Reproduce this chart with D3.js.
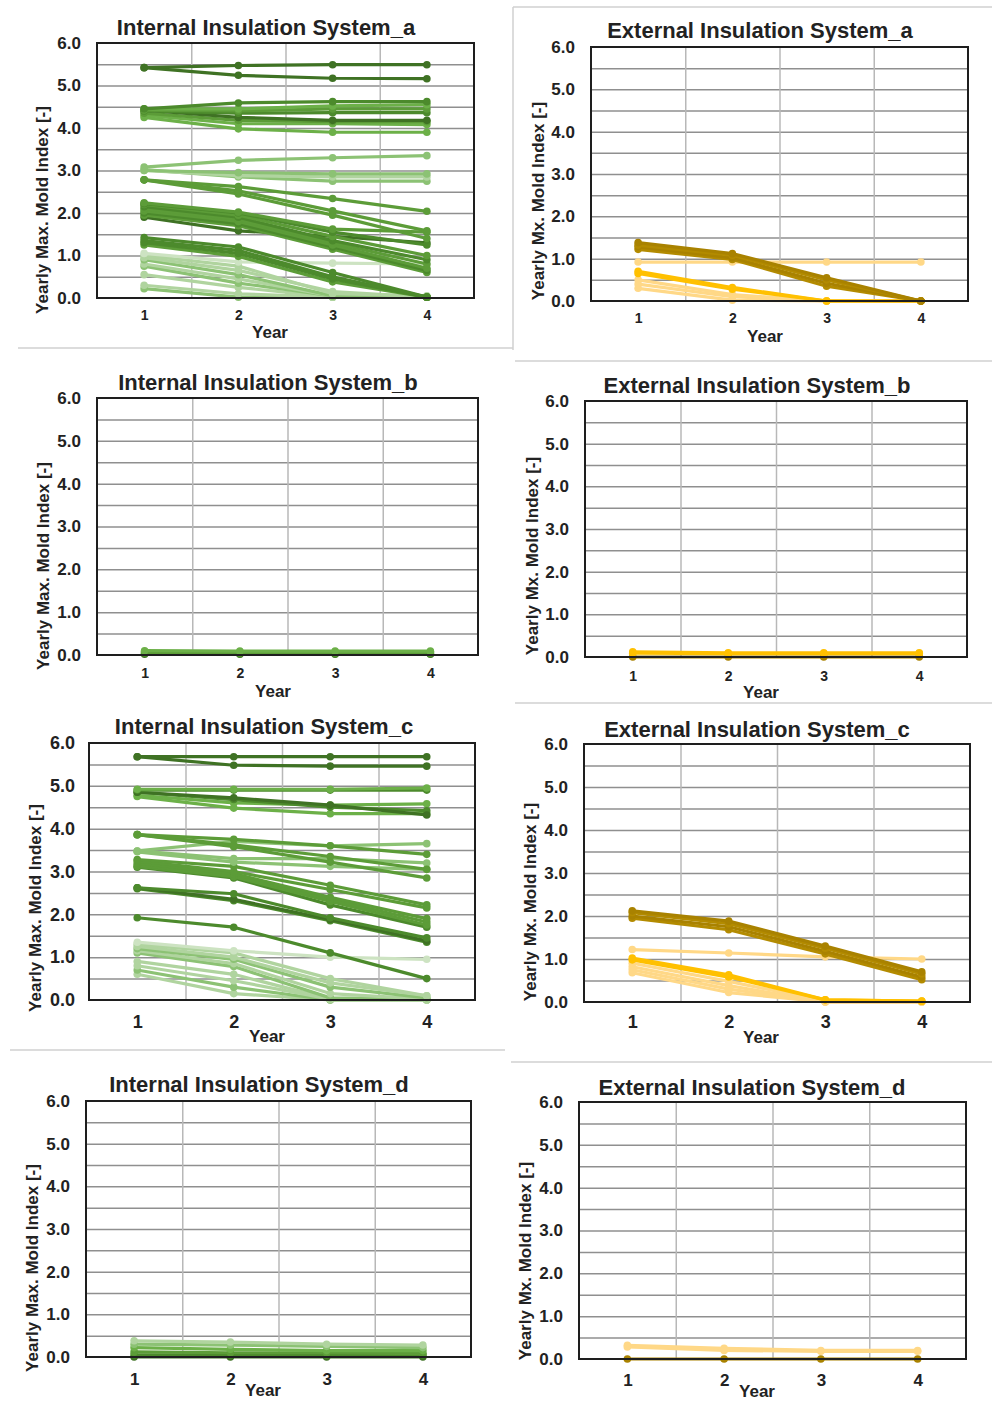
<!DOCTYPE html>
<html>
<head>
<meta charset="utf-8">
<script src="https://cdn.jsdelivr.net/npm/d3@7"></script>
<style>
  body { margin: 0; background: #fff; }
  text { font-family: "Liberation Sans", Arial, sans-serif; font-weight: bold; fill: #222; }
</style>
</head>
<body>
<svg id="canvas"></svg>
<script>
// ---- data ----
let years = [1, 2, 3, 4];
let yTicks = [0, 1, 2, 3, 4, 5, 6];
let yGrid = [0.5, 1, 1.5, 2, 2.5, 3, 3.5, 4, 4.5, 5, 5.5];
let xGrid = [1.5, 2.5, 3.5];

// Internal insulation system a
let intA = [
  [5.42, 5.47, 5.49, 5.49], [5.42, 5.24, 5.17, 5.16],
  [4.45, 4.59, 4.62, 4.62], [4.45, 4.45, 4.52, 4.55], [4.42, 4.40, 4.45, 4.45],
  [4.40, 4.35, 4.36, 4.36], [4.42, 4.25, 4.18, 4.18], [4.35, 4.18, 4.15, 4.15],
  [4.30, 4.10, 4.10, 4.08], [4.25, 3.98, 3.90, 3.90],
  [3.08, 3.24, 3.30, 3.35], [3.00, 2.95, 2.92, 2.92], [3.00, 2.88, 2.85, 2.85], [3.02, 2.85, 2.75, 2.75],
  [2.78, 2.62, 2.34, 2.04], [2.78, 2.52, 2.05, 1.58], [2.78, 2.45, 1.95, 1.40],
  [2.24, 2.02, 1.62, 1.55], [2.22, 2.00, 1.55, 1.25], [2.20, 1.95, 1.45, 1.00],
  [2.15, 1.90, 1.35, 0.90], [2.10, 1.85, 1.30, 0.80], [2.05, 1.80, 1.25, 0.70],
  [2.00, 1.75, 1.20, 0.65], [1.95, 1.70, 1.15, 0.60], [1.90, 1.58, 1.45, 1.30],
  [1.42, 1.20, 0.60, 0.02], [1.35, 1.12, 0.50, 0.02], [1.30, 1.05, 0.45, 0.02], [1.25, 0.98, 0.38, 0.02],
  [1.05, 0.85, 0.82, 0.80], [1.00, 0.75, 0.10, 0.05], [0.95, 0.65, 0.15, 0.02],
  [0.90, 0.55, 0.05, 0.02], [0.80, 0.45, 0.05, 0.02], [0.75, 0.35, 0.05, 0.02],
  [0.55, 0.25, 0.02, 0.02], [0.30, 0.10, 0.02, 0.02], [0.22, 0.02, 0.02, 0.02]
];
let intAShade = [0, 0, 1, 3, 2, 1, 0, 2, 3, 3, 4, 4, 5, 4, 2, 2, 2,
  2, 1, 2, 1, 2, 2, 1, 2, 0, 1, 1, 1, 2, 6, 5, 5, 4, 5, 4, 5, 5, 4];

// External insulation system a
let extA = [
  [1.38, 1.12, 0.55, 0.0], [1.32, 1.08, 0.50, 0.0], [1.28, 1.02, 0.42, 0.0], [1.22, 0.98, 0.35, 0.0],
  [0.92, 0.92, 0.92, 0.92],
  [0.70, 0.32, 0.0, 0.0], [0.65, 0.28, 0.0, 0.0],
  [0.50, 0.15, 0.0, 0.0], [0.40, 0.10, 0.0, 0.0], [0.30, 0.02, 0.0, 0.0]
];
let extAShade = [0, 1, 0, 1, 3, 2, 2, 3, 3, 3];

// Internal insulation system b
let intB = [
  [0.10, 0.09, 0.09, 0.09], [0.08, 0.07, 0.07, 0.07], [0.06, 0.05, 0.05, 0.05],
  [0.04, 0.03, 0.03, 0.03], [0.02, 0.02, 0.02, 0.02]
];
let intBShade = [3, 2, 2, 1, 0];

// External insulation system b
let extB = [[0.12, 0.10, 0.10, 0.10], [0.09, 0.08, 0.08, 0.08], [0.0, 0.0, 0.0, 0.0]];
let extBShade = [2, 2, 0];

// Internal insulation system c
let intC = [
  [5.68, 5.68, 5.68, 5.68], [5.68, 5.48, 5.46, 5.46],
  [4.92, 4.92, 4.92, 4.95], [4.90, 4.90, 4.90, 4.90], [4.85, 4.72, 4.55, 4.32],
  [4.85, 4.68, 4.50, 4.42], [4.78, 4.60, 4.55, 4.58], [4.75, 4.48, 4.35, 4.35],
  [3.86, 3.75, 3.60, 3.40], [3.86, 3.62, 3.35, 3.05], [3.86, 3.58, 3.22, 2.85],
  [3.48, 3.70, 3.60, 3.65], [3.48, 3.30, 3.30, 3.20], [3.46, 3.22, 3.12, 3.05],
  [3.28, 3.12, 2.68, 2.22], [3.25, 3.00, 2.58, 2.15], [3.20, 2.95, 2.40, 1.90],
  [3.15, 2.90, 2.35, 1.82], [3.12, 2.88, 2.30, 1.75], [3.10, 2.85, 2.22, 1.70],
  [2.62, 2.48, 1.92, 1.45], [2.62, 2.35, 1.88, 1.38], [2.60, 2.32, 1.85, 1.35],
  [1.92, 1.70, 1.10, 0.50],
  [1.35, 1.15, 1.00, 0.95], [1.30, 1.10, 0.50, 0.10], [1.25, 1.00, 0.40, 0.10],
  [1.20, 0.95, 0.30, 0.05], [1.15, 0.85, 0.15, 0.02], [1.10, 0.78, 0.05, 0.02],
  [0.90, 0.60, 0.02, 0.0], [0.80, 0.45, 0.02, 0.0], [0.70, 0.30, 0.0, 0.0], [0.60, 0.15, 0.0, 0.0]
];
let intCShade = [0, 0, 3, 1, 0, 1, 3, 3, 2, 2, 2, 4, 4, 4, 2, 2, 2, 2, 2, 1,
  1, 0, 1, 1, 6, 5, 5, 4, 5, 4, 5, 5, 4, 5];

// External insulation system c
let extC = [
  [2.12, 1.88, 1.30, 0.70], [2.08, 1.82, 1.25, 0.65], [2.00, 1.75, 1.18, 0.58], [1.95, 1.68, 1.12, 0.52],
  [1.22, 1.14, 1.05, 1.00],
  [1.02, 0.63, 0.05, 0.02], [0.98, 0.58, 0.05, 0.02],
  [0.90, 0.48, 0.02, 0.0], [0.82, 0.38, 0.0, 0.0], [0.75, 0.30, 0.0, 0.0], [0.68, 0.22, 0.0, 0.0]
];
let extCShade = [0, 1, 0, 1, 3, 2, 2, 3, 3, 3, 3];

// Internal insulation system d
let intD = [
  [0.38, 0.35, 0.30, 0.28], [0.30, 0.28, 0.25, 0.22], [0.22, 0.18, 0.15, 0.15],
  [0.12, 0.10, 0.10, 0.08], [0.05, 0.05, 0.05, 0.05], [0.0, 0.0, 0.0, 0.0]
];
let intDShade = [5, 4, 3, 2, 1, 0];

// External insulation system d
let extD = [[0.32, 0.25, 0.20, 0.20], [0.28, 0.20, 0.18, 0.18], [0.0, 0.0, 0.0, 0.0]];
let extDShade = [3, 3, 0];

let greens = ["#3f7224", "#4c8a2c", "#5c9c38", "#6cb048", "#8cc274", "#b0d49f", "#cde3c2"];
let golds = ["#a98200", "#b38b00", "#ffc000", "#ffd887"];

// ---- layout of the eight panels ----
let panels = [
  { title: "Internal Insulation System_a", ylab: "Yearly Max. Mold Index [-]", series: intA, shade: intAShade, pal: greens,
    l: 97, t: 43, r: 474, b: 298, tx: 266, ty: 35, lx: 42, ly: 210, yx: 270, yy: 338, xf: 14, xp: 12, yf: 17, yp: 16 },
  { title: "External Insulation System_a", ylab: "Yearly Mx. Mold Index [-]", series: extA, shade: extAShade, pal: golds,
    l: 591, t: 47, r: 968, b: 301, tx: 760, ty: 38, lx: 538, ly: 201, yx: 765, yy: 342, xf: 14, xp: 12, yf: 17, yp: 16 },
  { title: "Internal Insulation System_b", ylab: "Yearly Max. Mold Index [-]", series: intB, shade: intBShade, pal: greens,
    l: 97, t: 398, r: 478, b: 655, tx: 268, ty: 390, lx: 43, ly: 566, yx: 273, yy: 697, xf: 14, xp: 13, yf: 17, yp: 16 },
  { title: "External Insulation System_b", ylab: "Yearly Mx. Mold Index [-]", series: extB, shade: extBShade, pal: golds,
    l: 585, t: 401, r: 967, b: 657, tx: 757, ty: 393, lx: 532, ly: 556, yx: 761, yy: 698, xf: 14, xp: 14, yf: 17, yp: 16 },
  { title: "Internal Insulation System_c", ylab: "Yearly Max. Mold Index [-]", series: intC, shade: intCShade, pal: greens,
    l: 89, t: 743, r: 475, b: 1000, tx: 264, ty: 734, lx: 35, ly: 908, yx: 267, yy: 1042, xf: 18, xp: 15, yf: 18, yp: 14 },
  { title: "External Insulation System_c", ylab: "Yearly Mx. Mold Index [-]", series: extC, shade: extCShade, pal: golds,
    l: 584, t: 744, r: 970, b: 1002, tx: 757, ty: 737, lx: 530, ly: 902, yx: 761, yy: 1043, xf: 18, xp: 13, yf: 17, yp: 16 },
  { title: "Internal Insulation System_d", ylab: "Yearly Max. Mold Index [-]", series: intD, shade: intDShade, pal: greens,
    l: 86, t: 1101, r: 471, b: 1357, tx: 259, ty: 1092, lx: 32, ly: 1268, yx: 263, yy: 1396, xf: 17, xp: 16, yf: 17, yp: 16 },
  { title: "External Insulation System_d", ylab: "Yearly Mx. Mold Index [-]", series: extD, shade: extDShade, pal: golds,
    l: 579, t: 1102, r: 966, b: 1359, tx: 752, ty: 1095, lx: 525, ly: 1261, yx: 757, yy: 1397, xf: 17, xp: 15, yf: 17, yp: 16 }
];

let width = 992;
let height = 1402;

let canvas = d3.select("#canvas")
  .attr("width", width)
  .attr("height", height);

canvas.append("rect").attr("width", width).attr("height", height).attr("fill", "#fff");

// light separator lines of the collage
let seps = [
  [18, 348, 513, 348], [513, 7, 513, 350], [513, 7, 992, 7],
  [515, 361, 992, 361], [515, 703, 992, 703],
  [10, 1050, 505, 1050], [511, 1062, 992, 1062]
];
canvas.selectAll("line.sep")
  .data(seps)
  .enter()
  .append("line")
  .attr("class", "sep")
  .attr("x1", d => d[0]).attr("y1", d => d[1])
  .attr("x2", d => d[2]).attr("y2", d => d[3])
  .attr("stroke", "#d0d0d0")
  .attr("stroke-width", 1.5);

let drawPanel = (p) => {
  let g = canvas.append("g");

  let xScale = d3.scaleLinear().domain([0.5, 4.5]).range([p.l, p.r]);
  let yScale = d3.scaleLinear().domain([0, 6]).range([p.b, p.t]);

  // grid
  g.append("g")
    .attr("transform", "translate(" + p.l + ",0)")
    .call(d3.axisLeft(yScale).tickValues(yGrid).tickSize(-(p.r - p.l)).tickFormat(""))
    .call(s => s.select(".domain").remove())
    .selectAll("line")
    .attr("stroke", "#8f8f8f")
    .attr("stroke-width", 1.5);

  g.append("g")
    .attr("transform", "translate(0," + p.b + ")")
    .call(d3.axisBottom(xScale).tickValues(xGrid).tickSize(-(p.b - p.t)).tickFormat(""))
    .call(s => s.select(".domain").remove())
    .selectAll("line")
    .attr("stroke", "#b8b8b8")
    .attr("stroke-width", 1.5);

  // series
  let line = d3.line()
    .x((d, i) => xScale(years[i]))
    .y(d => yScale(d));

  let order = d3.range(p.series.length).reverse();
  order.forEach(k => {
    let vals = p.series[k];
    let col = p.pal[p.shade[k]];
    g.append("path")
      .attr("d", line(vals))
      .attr("fill", "none")
      .attr("stroke", col)
      .attr("stroke-width", 3.2)
      .attr("stroke-linejoin", "round");
    g.selectAll(null)
      .data(vals)
      .enter()
      .append("circle")
      .attr("cx", (d, i) => xScale(years[i]))
      .attr("cy", d => yScale(d))
      .attr("r", 3.8)
      .attr("fill", col);
  });

  // frame
  g.append("rect")
    .attr("x", p.l).attr("y", p.t)
    .attr("width", p.r - p.l).attr("height", p.b - p.t)
    .attr("fill", "none")
    .attr("stroke", "#1e1e1e")
    .attr("stroke-width", 2);

  // axes labels
  g.append("g")
    .attr("transform", "translate(" + p.l + ",0)")
    .call(d3.axisLeft(yScale).tickValues(yTicks).tickSize(0).tickPadding(p.yp).tickFormat(d3.format(".1f")))
    .call(s => s.select(".domain").remove())
    .selectAll("text")
    .attr("font-size", p.yf + "px")
    .attr("fill", "#222");

  g.append("g")
    .attr("transform", "translate(0," + p.b + ")")
    .call(d3.axisBottom(xScale).tickValues(years).tickSize(0).tickPadding(p.xp).tickFormat(d3.format("d")))
    .call(s => s.select(".domain").remove())
    .selectAll("text")
    .attr("font-size", p.xf + "px")
    .attr("fill", "#222");

  canvas.selectAll(".tick text").attr("font-family", "Liberation Sans, Arial, sans-serif").attr("font-weight", "bold");

  g.append("text")
    .text(p.title)
    .attr("x", p.tx).attr("y", p.ty)
    .attr("text-anchor", "middle")
    .attr("font-size", "22px");

  g.append("text")
    .text(p.ylab)
    .attr("transform", "translate(" + p.lx + "," + p.ly + ") rotate(-90)")
    .attr("text-anchor", "middle")
    .attr("dy", "0.35em")
    .attr("font-size", "17px");

  g.append("text")
    .text("Year")
    .attr("x", p.yx).attr("y", p.yy)
    .attr("text-anchor", "middle")
    .attr("font-size", "17px");
};

panels.forEach(drawPanel);
</script>
</body>
</html>
